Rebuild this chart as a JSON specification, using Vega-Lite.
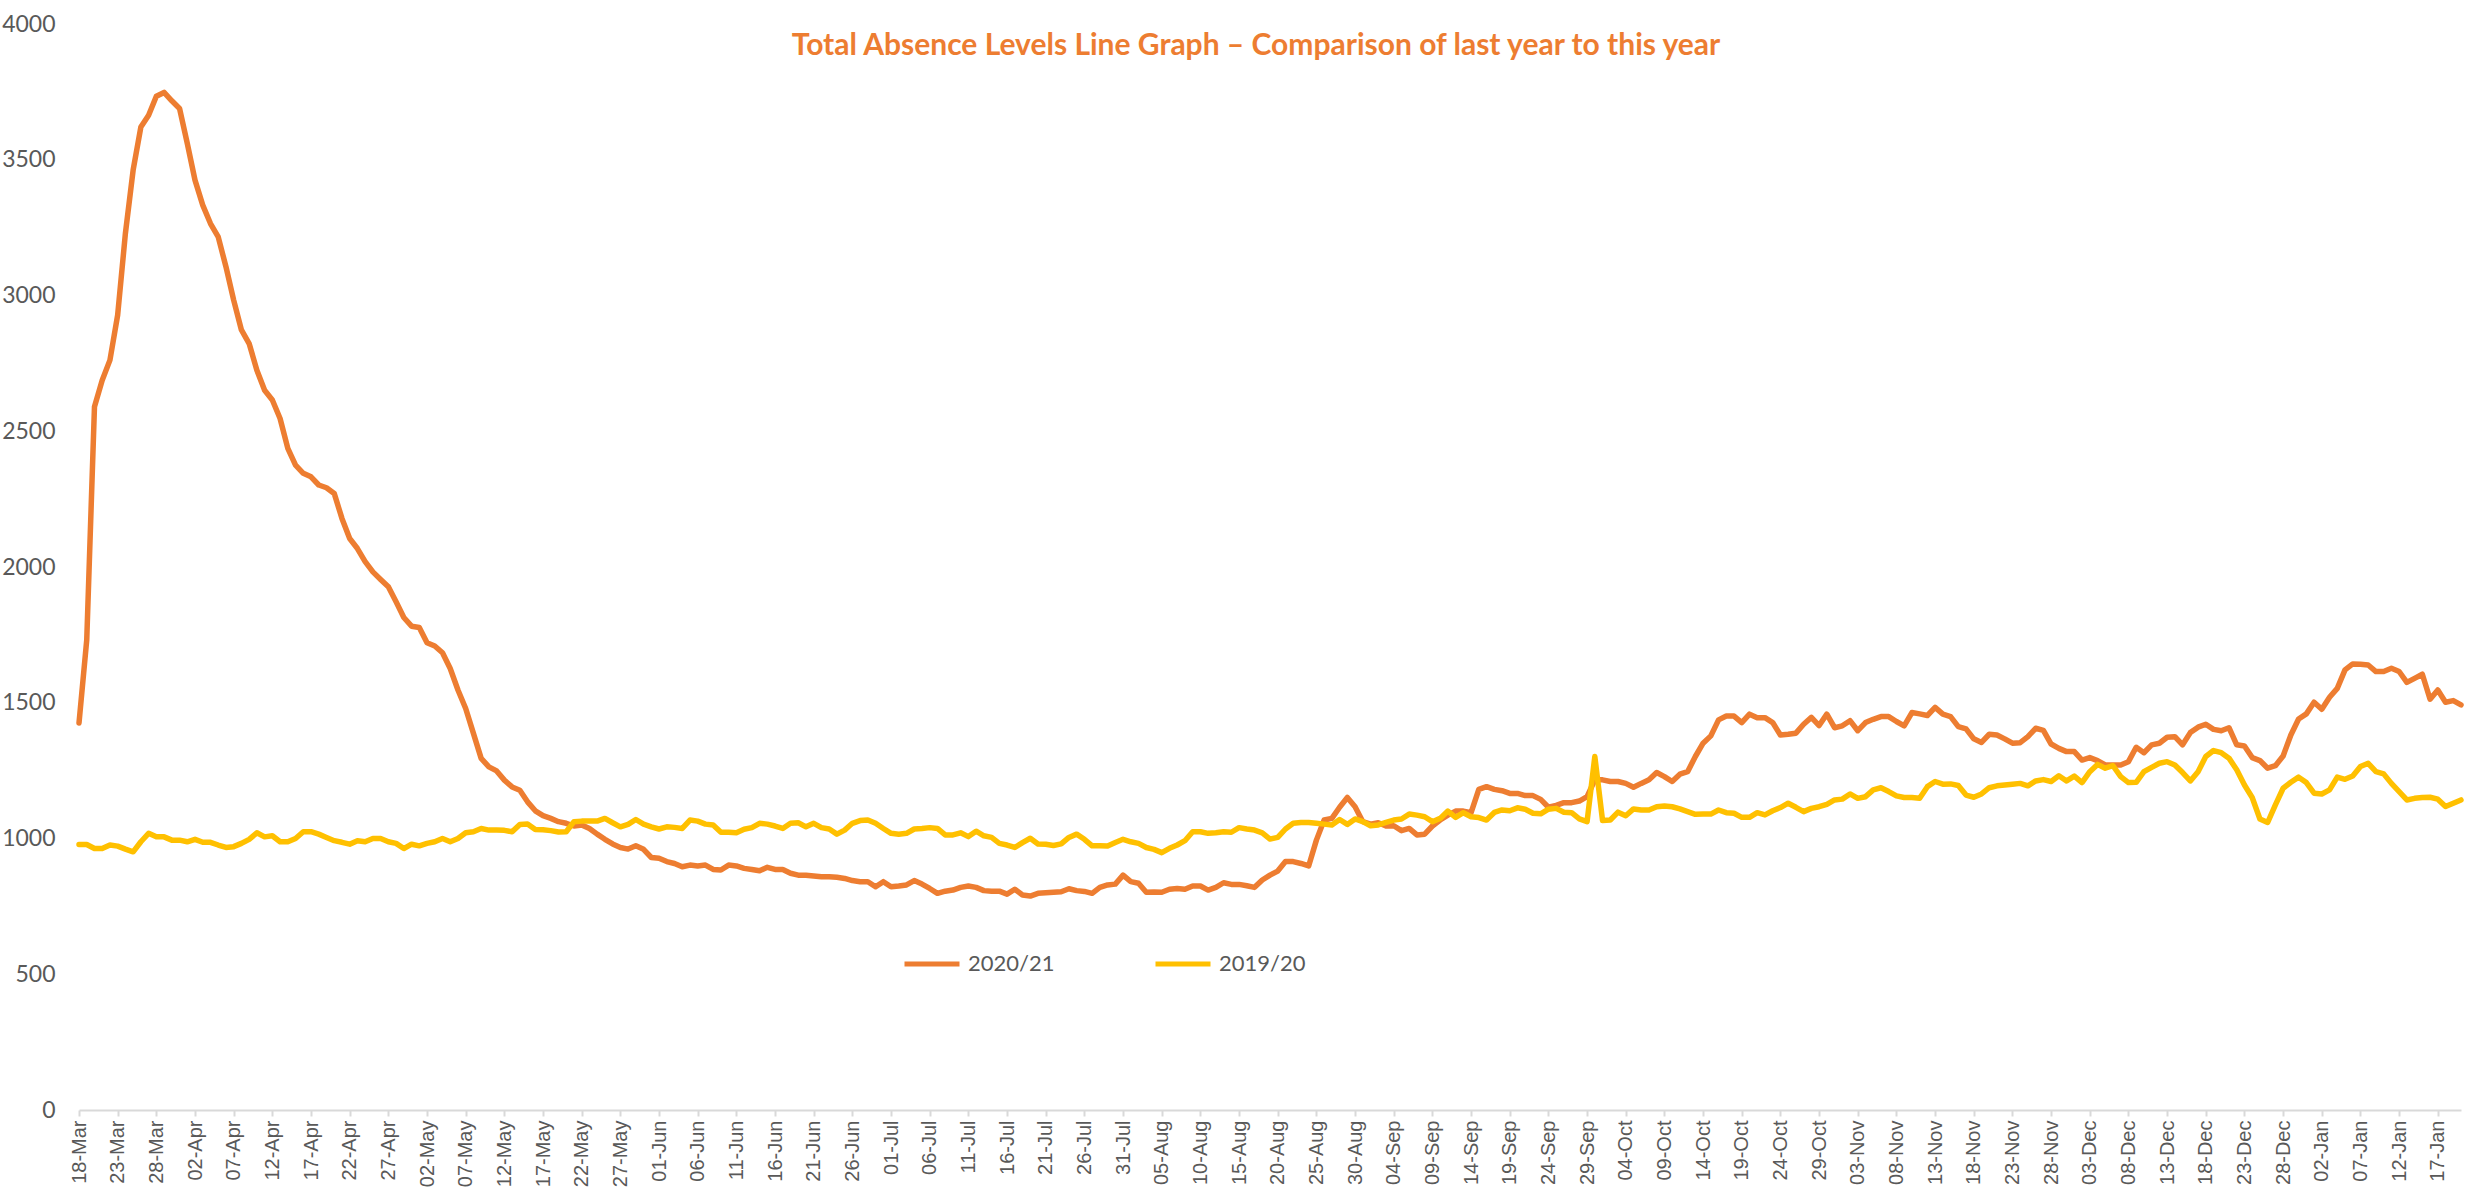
{
"$schema": "https://vega.github.io/schema/vega-lite/v6.json",
"width": 2382, "height": 1086,
"autosize": {"type": "none"},
"padding": {"left": 79, "top": 24, "right": 23, "bottom": 86},
"background": "white",
"config": {"view": {"stroke": null}, "font": "Lato"},
"title": {"text": "Total Absence Levels Line Graph – Comparison of last year to this year", "color": "#ED7D31", "font": "Lato", "fontWeight": "bold", "fontSize": 30, "anchor": "middle", "offset": -48, "dx": -14},
"data": {"values": [
{"d":"18-Mar","s":"2020/21","v":1425},{"d":"19-Mar","s":"2020/21","v":1731},{"d":"20-Mar","s":"2020/21","v":2590},{"d":"21-Mar","s":"2020/21","v":2688},{"d":"22-Mar","s":"2020/21","v":2762},{"d":"23-Mar","s":"2020/21","v":2928},{"d":"24-Mar","s":"2020/21","v":3229},{"d":"25-Mar","s":"2020/21","v":3462},{"d":"26-Mar","s":"2020/21","v":3621},{"d":"27-Mar","s":"2020/21","v":3664},{"d":"28-Mar","s":"2020/21","v":3734},{"d":"29-Mar","s":"2020/21","v":3748},{"d":"30-Mar","s":"2020/21","v":3717},{"d":"31-Mar","s":"2020/21","v":3689},
{"d":"01-Apr","s":"2020/21","v":3560},{"d":"02-Apr","s":"2020/21","v":3425},{"d":"03-Apr","s":"2020/21","v":3333},{"d":"04-Apr","s":"2020/21","v":3265},{"d":"05-Apr","s":"2020/21","v":3216},{"d":"06-Apr","s":"2020/21","v":3106},{"d":"07-Apr","s":"2020/21","v":2983},{"d":"08-Apr","s":"2020/21","v":2873},{"d":"09-Apr","s":"2020/21","v":2823},{"d":"10-Apr","s":"2020/21","v":2725},{"d":"11-Apr","s":"2020/21","v":2651},{"d":"12-Apr","s":"2020/21","v":2615},{"d":"13-Apr","s":"2020/21","v":2547},{"d":"14-Apr","s":"2020/21","v":2437},{"d":"15-Apr","s":"2020/21","v":2375},{"d":"16-Apr","s":"2020/21","v":2345},{"d":"17-Apr","s":"2020/21","v":2332},{"d":"18-Apr","s":"2020/21","v":2302},{"d":"19-Apr","s":"2020/21","v":2292},{"d":"20-Apr","s":"2020/21","v":2271},{"d":"21-Apr","s":"2020/21","v":2179},{"d":"22-Apr","s":"2020/21","v":2105},{"d":"23-Apr","s":"2020/21","v":2068},{"d":"24-Apr","s":"2020/21","v":2020},{"d":"25-Apr","s":"2020/21","v":1982},{"d":"26-Apr","s":"2020/21","v":1954},{"d":"27-Apr","s":"2020/21","v":1927},{"d":"28-Apr","s":"2020/21","v":1872},{"d":"29-Apr","s":"2020/21","v":1814},{"d":"30-Apr","s":"2020/21","v":1782},
{"d":"01-May","s":"2020/21","v":1777},{"d":"02-May","s":"2020/21","v":1721},{"d":"03-May","s":"2020/21","v":1709},{"d":"04-May","s":"2020/21","v":1684},{"d":"05-May","s":"2020/21","v":1626},{"d":"06-May","s":"2020/21","v":1547},{"d":"07-May","s":"2020/21","v":1479},{"d":"08-May","s":"2020/21","v":1387},{"d":"09-May","s":"2020/21","v":1295},{"d":"10-May","s":"2020/21","v":1264},{"d":"11-May","s":"2020/21","v":1249},{"d":"12-May","s":"2020/21","v":1215},{"d":"13-May","s":"2020/21","v":1190},{"d":"14-May","s":"2020/21","v":1178},{"d":"15-May","s":"2020/21","v":1135},{"d":"16-May","s":"2020/21","v":1102},{"d":"17-May","s":"2020/21","v":1084},{"d":"18-May","s":"2020/21","v":1074},{"d":"19-May","s":"2020/21","v":1062},{"d":"20-May","s":"2020/21","v":1056},{"d":"21-May","s":"2020/21","v":1046},{"d":"22-May","s":"2020/21","v":1050},{"d":"23-May","s":"2020/21","v":1037},{"d":"24-May","s":"2020/21","v":1016},{"d":"25-May","s":"2020/21","v":997},{"d":"26-May","s":"2020/21","v":980},{"d":"27-May","s":"2020/21","v":967},{"d":"28-May","s":"2020/21","v":961},{"d":"29-May","s":"2020/21","v":973},{"d":"30-May","s":"2020/21","v":960},{"d":"31-May","s":"2020/21","v":930},
{"d":"01-Jun","s":"2020/21","v":927},{"d":"02-Jun","s":"2020/21","v":915},{"d":"03-Jun","s":"2020/21","v":908},{"d":"04-Jun","s":"2020/21","v":896},{"d":"05-Jun","s":"2020/21","v":902},{"d":"06-Jun","s":"2020/21","v":899},{"d":"07-Jun","s":"2020/21","v":902},{"d":"08-Jun","s":"2020/21","v":886},{"d":"09-Jun","s":"2020/21","v":884},{"d":"10-Jun","s":"2020/21","v":902},{"d":"11-Jun","s":"2020/21","v":899},{"d":"12-Jun","s":"2020/21","v":890},{"d":"13-Jun","s":"2020/21","v":886},{"d":"14-Jun","s":"2020/21","v":881},{"d":"15-Jun","s":"2020/21","v":894},{"d":"16-Jun","s":"2020/21","v":886},{"d":"17-Jun","s":"2020/21","v":886},{"d":"18-Jun","s":"2020/21","v":872},{"d":"19-Jun","s":"2020/21","v":865},{"d":"20-Jun","s":"2020/21","v":865},{"d":"21-Jun","s":"2020/21","v":862},{"d":"22-Jun","s":"2020/21","v":859},{"d":"23-Jun","s":"2020/21","v":859},{"d":"24-Jun","s":"2020/21","v":857},{"d":"25-Jun","s":"2020/21","v":853},{"d":"26-Jun","s":"2020/21","v":845},{"d":"27-Jun","s":"2020/21","v":841},{"d":"28-Jun","s":"2020/21","v":841},{"d":"29-Jun","s":"2020/21","v":822},{"d":"30-Jun","s":"2020/21","v":841},
{"d":"01-Jul","s":"2020/21","v":822},{"d":"02-Jul","s":"2020/21","v":825},{"d":"03-Jul","s":"2020/21","v":829},{"d":"04-Jul","s":"2020/21","v":845},{"d":"05-Jul","s":"2020/21","v":832},{"d":"06-Jul","s":"2020/21","v":816},{"d":"07-Jul","s":"2020/21","v":798},{"d":"08-Jul","s":"2020/21","v":806},{"d":"09-Jul","s":"2020/21","v":810},{"d":"10-Jul","s":"2020/21","v":820},{"d":"11-Jul","s":"2020/21","v":825},{"d":"12-Jul","s":"2020/21","v":820},{"d":"13-Jul","s":"2020/21","v":808},{"d":"14-Jul","s":"2020/21","v":806},{"d":"15-Jul","s":"2020/21","v":806},{"d":"16-Jul","s":"2020/21","v":795},{"d":"17-Jul","s":"2020/21","v":813},{"d":"18-Jul","s":"2020/21","v":792},{"d":"19-Jul","s":"2020/21","v":788},{"d":"20-Jul","s":"2020/21","v":798},{"d":"21-Jul","s":"2020/21","v":800},{"d":"22-Jul","s":"2020/21","v":802},{"d":"23-Jul","s":"2020/21","v":804},{"d":"24-Jul","s":"2020/21","v":815},{"d":"25-Jul","s":"2020/21","v":808},{"d":"26-Jul","s":"2020/21","v":805},{"d":"27-Jul","s":"2020/21","v":798},{"d":"28-Jul","s":"2020/21","v":820},{"d":"29-Jul","s":"2020/21","v":829},{"d":"30-Jul","s":"2020/21","v":832},{"d":"31-Jul","s":"2020/21","v":865},
{"d":"01-Aug","s":"2020/21","v":841},{"d":"02-Aug","s":"2020/21","v":835},{"d":"03-Aug","s":"2020/21","v":802},{"d":"04-Aug","s":"2020/21","v":803},{"d":"05-Aug","s":"2020/21","v":802},{"d":"06-Aug","s":"2020/21","v":813},{"d":"07-Aug","s":"2020/21","v":816},{"d":"08-Aug","s":"2020/21","v":813},{"d":"09-Aug","s":"2020/21","v":825},{"d":"10-Aug","s":"2020/21","v":825},{"d":"11-Aug","s":"2020/21","v":810},{"d":"12-Aug","s":"2020/21","v":820},{"d":"13-Aug","s":"2020/21","v":837},{"d":"14-Aug","s":"2020/21","v":831},{"d":"15-Aug","s":"2020/21","v":831},{"d":"16-Aug","s":"2020/21","v":826},{"d":"17-Aug","s":"2020/21","v":820},{"d":"18-Aug","s":"2020/21","v":847},{"d":"19-Aug","s":"2020/21","v":865},{"d":"20-Aug","s":"2020/21","v":880},{"d":"21-Aug","s":"2020/21","v":915},{"d":"22-Aug","s":"2020/21","v":915},{"d":"23-Aug","s":"2020/21","v":908},{"d":"24-Aug","s":"2020/21","v":899},{"d":"25-Aug","s":"2020/21","v":994},{"d":"26-Aug","s":"2020/21","v":1068},{"d":"27-Aug","s":"2020/21","v":1074},{"d":"28-Aug","s":"2020/21","v":1115},{"d":"29-Aug","s":"2020/21","v":1151},{"d":"30-Aug","s":"2020/21","v":1117},{"d":"31-Aug","s":"2020/21","v":1062},
{"d":"01-Sep","s":"2020/21","v":1053},{"d":"02-Sep","s":"2020/21","v":1058},{"d":"03-Sep","s":"2020/21","v":1046},{"d":"04-Sep","s":"2020/21","v":1047},{"d":"05-Sep","s":"2020/21","v":1029},{"d":"06-Sep","s":"2020/21","v":1037},{"d":"07-Sep","s":"2020/21","v":1013},{"d":"08-Sep","s":"2020/21","v":1016},{"d":"09-Sep","s":"2020/21","v":1046},{"d":"10-Sep","s":"2020/21","v":1068},{"d":"11-Sep","s":"2020/21","v":1086},{"d":"12-Sep","s":"2020/21","v":1101},{"d":"13-Sep","s":"2020/21","v":1101},{"d":"14-Sep","s":"2020/21","v":1095},{"d":"15-Sep","s":"2020/21","v":1181},{"d":"16-Sep","s":"2020/21","v":1191},{"d":"17-Sep","s":"2020/21","v":1181},{"d":"18-Sep","s":"2020/21","v":1176},{"d":"19-Sep","s":"2020/21","v":1166},{"d":"20-Sep","s":"2020/21","v":1166},{"d":"21-Sep","s":"2020/21","v":1158},{"d":"22-Sep","s":"2020/21","v":1158},{"d":"23-Sep","s":"2020/21","v":1144},{"d":"24-Sep","s":"2020/21","v":1115},{"d":"25-Sep","s":"2020/21","v":1122},{"d":"26-Sep","s":"2020/21","v":1132},{"d":"27-Sep","s":"2020/21","v":1132},{"d":"28-Sep","s":"2020/21","v":1138},{"d":"29-Sep","s":"2020/21","v":1154},{"d":"30-Sep","s":"2020/21","v":1216},
{"d":"01-Oct","s":"2020/21","v":1216},{"d":"02-Oct","s":"2020/21","v":1210},{"d":"03-Oct","s":"2020/21","v":1210},{"d":"04-Oct","s":"2020/21","v":1203},{"d":"05-Oct","s":"2020/21","v":1189},{"d":"06-Oct","s":"2020/21","v":1203},{"d":"07-Oct","s":"2020/21","v":1216},{"d":"08-Oct","s":"2020/21","v":1243},{"d":"09-Oct","s":"2020/21","v":1228},{"d":"10-Oct","s":"2020/21","v":1210},{"d":"11-Oct","s":"2020/21","v":1237},{"d":"12-Oct","s":"2020/21","v":1246},{"d":"13-Oct","s":"2020/21","v":1302},{"d":"14-Oct","s":"2020/21","v":1351},{"d":"15-Oct","s":"2020/21","v":1378},{"d":"16-Oct","s":"2020/21","v":1437},{"d":"17-Oct","s":"2020/21","v":1451},{"d":"18-Oct","s":"2020/21","v":1451},{"d":"19-Oct","s":"2020/21","v":1427},{"d":"20-Oct","s":"2020/21","v":1458},{"d":"21-Oct","s":"2020/21","v":1445},{"d":"22-Oct","s":"2020/21","v":1445},{"d":"23-Oct","s":"2020/21","v":1427},{"d":"24-Oct","s":"2020/21","v":1381},{"d":"25-Oct","s":"2020/21","v":1384},{"d":"26-Oct","s":"2020/21","v":1388},{"d":"27-Oct","s":"2020/21","v":1421},{"d":"28-Oct","s":"2020/21","v":1446},{"d":"29-Oct","s":"2020/21","v":1416},{"d":"30-Oct","s":"2020/21","v":1458},{"d":"31-Oct","s":"2020/21","v":1408},
{"d":"01-Nov","s":"2020/21","v":1415},{"d":"02-Nov","s":"2020/21","v":1434},{"d":"03-Nov","s":"2020/21","v":1397},{"d":"04-Nov","s":"2020/21","v":1427},{"d":"05-Nov","s":"2020/21","v":1439},{"d":"06-Nov","s":"2020/21","v":1449},{"d":"07-Nov","s":"2020/21","v":1449},{"d":"08-Nov","s":"2020/21","v":1431},{"d":"09-Nov","s":"2020/21","v":1415},{"d":"10-Nov","s":"2020/21","v":1464},{"d":"11-Nov","s":"2020/21","v":1459},{"d":"12-Nov","s":"2020/21","v":1453},{"d":"13-Nov","s":"2020/21","v":1483},{"d":"14-Nov","s":"2020/21","v":1458},{"d":"15-Nov","s":"2020/21","v":1449},{"d":"16-Nov","s":"2020/21","v":1412},{"d":"17-Nov","s":"2020/21","v":1404},{"d":"18-Nov","s":"2020/21","v":1367},{"d":"19-Nov","s":"2020/21","v":1354},{"d":"20-Nov","s":"2020/21","v":1384},{"d":"21-Nov","s":"2020/21","v":1381},{"d":"22-Nov","s":"2020/21","v":1367},{"d":"23-Nov","s":"2020/21","v":1351},{"d":"24-Nov","s":"2020/21","v":1353},{"d":"25-Nov","s":"2020/21","v":1375},{"d":"26-Nov","s":"2020/21","v":1406},{"d":"27-Nov","s":"2020/21","v":1398},{"d":"28-Nov","s":"2020/21","v":1348},{"d":"29-Nov","s":"2020/21","v":1332},{"d":"30-Nov","s":"2020/21","v":1320},
{"d":"01-Dec","s":"2020/21","v":1320},{"d":"02-Dec","s":"2020/21","v":1289},{"d":"03-Dec","s":"2020/21","v":1298},{"d":"04-Dec","s":"2020/21","v":1287},{"d":"05-Dec","s":"2020/21","v":1271},{"d":"06-Dec","s":"2020/21","v":1271},{"d":"07-Dec","s":"2020/21","v":1271},{"d":"08-Dec","s":"2020/21","v":1283},{"d":"09-Dec","s":"2020/21","v":1336},{"d":"10-Dec","s":"2020/21","v":1316},{"d":"11-Dec","s":"2020/21","v":1345},{"d":"12-Dec","s":"2020/21","v":1351},{"d":"13-Dec","s":"2020/21","v":1373},{"d":"14-Dec","s":"2020/21","v":1375},{"d":"15-Dec","s":"2020/21","v":1345},{"d":"16-Dec","s":"2020/21","v":1390},{"d":"17-Dec","s":"2020/21","v":1410},{"d":"18-Dec","s":"2020/21","v":1421},{"d":"19-Dec","s":"2020/21","v":1402},{"d":"20-Dec","s":"2020/21","v":1397},{"d":"21-Dec","s":"2020/21","v":1408},{"d":"22-Dec","s":"2020/21","v":1345},{"d":"23-Dec","s":"2020/21","v":1341},{"d":"24-Dec","s":"2020/21","v":1298},{"d":"25-Dec","s":"2020/21","v":1287},{"d":"26-Dec","s":"2020/21","v":1259},{"d":"27-Dec","s":"2020/21","v":1268},{"d":"28-Dec","s":"2020/21","v":1304},{"d":"29-Dec","s":"2020/21","v":1381},{"d":"30-Dec","s":"2020/21","v":1440},{"d":"31-Dec","s":"2020/21","v":1459},
{"d":"01-Jan","s":"2020/21","v":1502},{"d":"02-Jan","s":"2020/21","v":1476},{"d":"03-Jan","s":"2020/21","v":1520},{"d":"04-Jan","s":"2020/21","v":1553},{"d":"05-Jan","s":"2020/21","v":1621},{"d":"06-Jan","s":"2020/21","v":1643},{"d":"07-Jan","s":"2020/21","v":1642},{"d":"08-Jan","s":"2020/21","v":1639},{"d":"09-Jan","s":"2020/21","v":1615},{"d":"10-Jan","s":"2020/21","v":1615},{"d":"11-Jan","s":"2020/21","v":1627},{"d":"12-Jan","s":"2020/21","v":1615},{"d":"13-Jan","s":"2020/21","v":1575},{"d":"14-Jan","s":"2020/21","v":1590},{"d":"15-Jan","s":"2020/21","v":1605},{"d":"16-Jan","s":"2020/21","v":1513},{"d":"17-Jan","s":"2020/21","v":1547},{"d":"18-Jan","s":"2020/21","v":1502},{"d":"19-Jan","s":"2020/21","v":1508},{"d":"20-Jan","s":"2020/21","v":1492},
{"d":"18-Mar","s":"2019/20","v":978},{"d":"19-Mar","s":"2019/20","v":978},{"d":"20-Mar","s":"2019/20","v":963},{"d":"21-Mar","s":"2019/20","v":963},{"d":"22-Mar","s":"2019/20","v":976},{"d":"23-Mar","s":"2019/20","v":972},{"d":"24-Mar","s":"2019/20","v":961},{"d":"25-Mar","s":"2019/20","v":951},{"d":"26-Mar","s":"2019/20","v":988},{"d":"27-Mar","s":"2019/20","v":1019},{"d":"28-Mar","s":"2019/20","v":1006},{"d":"29-Mar","s":"2019/20","v":1006},{"d":"30-Mar","s":"2019/20","v":994},{"d":"31-Mar","s":"2019/20","v":994},
{"d":"01-Apr","s":"2019/20","v":988},{"d":"02-Apr","s":"2019/20","v":997},{"d":"03-Apr","s":"2019/20","v":986},{"d":"04-Apr","s":"2019/20","v":986},{"d":"05-Apr","s":"2019/20","v":976},{"d":"06-Apr","s":"2019/20","v":967},{"d":"07-Apr","s":"2019/20","v":970},{"d":"08-Apr","s":"2019/20","v":982},{"d":"09-Apr","s":"2019/20","v":997},{"d":"10-Apr","s":"2019/20","v":1021},{"d":"11-Apr","s":"2019/20","v":1006},{"d":"12-Apr","s":"2019/20","v":1010},{"d":"13-Apr","s":"2019/20","v":988},{"d":"14-Apr","s":"2019/20","v":988},{"d":"15-Apr","s":"2019/20","v":1000},{"d":"16-Apr","s":"2019/20","v":1025},{"d":"17-Apr","s":"2019/20","v":1025},{"d":"18-Apr","s":"2019/20","v":1016},{"d":"19-Apr","s":"2019/20","v":1004},{"d":"20-Apr","s":"2019/20","v":992},{"d":"21-Apr","s":"2019/20","v":986},{"d":"22-Apr","s":"2019/20","v":979},{"d":"23-Apr","s":"2019/20","v":992},{"d":"24-Apr","s":"2019/20","v":988},{"d":"25-Apr","s":"2019/20","v":1000},{"d":"26-Apr","s":"2019/20","v":1000},{"d":"27-Apr","s":"2019/20","v":988},{"d":"28-Apr","s":"2019/20","v":982},{"d":"29-Apr","s":"2019/20","v":963},{"d":"30-Apr","s":"2019/20","v":979},
{"d":"01-May","s":"2019/20","v":973},{"d":"02-May","s":"2019/20","v":982},{"d":"03-May","s":"2019/20","v":988},{"d":"04-May","s":"2019/20","v":1000},{"d":"05-May","s":"2019/20","v":988},{"d":"06-May","s":"2019/20","v":1000},{"d":"07-May","s":"2019/20","v":1021},{"d":"08-May","s":"2019/20","v":1025},{"d":"09-May","s":"2019/20","v":1037},{"d":"10-May","s":"2019/20","v":1031},{"d":"11-May","s":"2019/20","v":1031},{"d":"12-May","s":"2019/20","v":1030},{"d":"13-May","s":"2019/20","v":1025},{"d":"14-May","s":"2019/20","v":1052},{"d":"15-May","s":"2019/20","v":1053},{"d":"16-May","s":"2019/20","v":1033},{"d":"17-May","s":"2019/20","v":1032},{"d":"18-May","s":"2019/20","v":1029},{"d":"19-May","s":"2019/20","v":1024},{"d":"20-May","s":"2019/20","v":1025},{"d":"21-May","s":"2019/20","v":1062},{"d":"22-May","s":"2019/20","v":1064},{"d":"23-May","s":"2019/20","v":1064},{"d":"24-May","s":"2019/20","v":1064},{"d":"25-May","s":"2019/20","v":1074},{"d":"26-May","s":"2019/20","v":1058},{"d":"27-May","s":"2019/20","v":1043},{"d":"28-May","s":"2019/20","v":1052},{"d":"29-May","s":"2019/20","v":1070},{"d":"30-May","s":"2019/20","v":1053},{"d":"31-May","s":"2019/20","v":1043},
{"d":"01-Jun","s":"2019/20","v":1035},{"d":"02-Jun","s":"2019/20","v":1043},{"d":"03-Jun","s":"2019/20","v":1041},{"d":"04-Jun","s":"2019/20","v":1037},{"d":"05-Jun","s":"2019/20","v":1068},{"d":"06-Jun","s":"2019/20","v":1064},{"d":"07-Jun","s":"2019/20","v":1053},{"d":"08-Jun","s":"2019/20","v":1050},{"d":"09-Jun","s":"2019/20","v":1023},{"d":"10-Jun","s":"2019/20","v":1023},{"d":"11-Jun","s":"2019/20","v":1021},{"d":"12-Jun","s":"2019/20","v":1034},{"d":"13-Jun","s":"2019/20","v":1040},{"d":"14-Jun","s":"2019/20","v":1056},{"d":"15-Jun","s":"2019/20","v":1053},{"d":"16-Jun","s":"2019/20","v":1046},{"d":"17-Jun","s":"2019/20","v":1037},{"d":"18-Jun","s":"2019/20","v":1056},{"d":"19-Jun","s":"2019/20","v":1058},{"d":"20-Jun","s":"2019/20","v":1043},{"d":"21-Jun","s":"2019/20","v":1056},{"d":"22-Jun","s":"2019/20","v":1040},{"d":"23-Jun","s":"2019/20","v":1035},{"d":"24-Jun","s":"2019/20","v":1016},{"d":"25-Jun","s":"2019/20","v":1031},{"d":"26-Jun","s":"2019/20","v":1056},{"d":"27-Jun","s":"2019/20","v":1066},{"d":"28-Jun","s":"2019/20","v":1068},{"d":"29-Jun","s":"2019/20","v":1056},{"d":"30-Jun","s":"2019/20","v":1037},
{"d":"01-Jul","s":"2019/20","v":1019},{"d":"02-Jul","s":"2019/20","v":1016},{"d":"03-Jul","s":"2019/20","v":1019},{"d":"04-Jul","s":"2019/20","v":1035},{"d":"05-Jul","s":"2019/20","v":1037},{"d":"06-Jul","s":"2019/20","v":1040},{"d":"07-Jul","s":"2019/20","v":1037},{"d":"08-Jul","s":"2019/20","v":1013},{"d":"09-Jul","s":"2019/20","v":1013},{"d":"10-Jul","s":"2019/20","v":1021},{"d":"11-Jul","s":"2019/20","v":1007},{"d":"12-Jul","s":"2019/20","v":1027},{"d":"13-Jul","s":"2019/20","v":1010},{"d":"14-Jul","s":"2019/20","v":1004},{"d":"15-Jul","s":"2019/20","v":982},{"d":"16-Jul","s":"2019/20","v":976},{"d":"17-Jul","s":"2019/20","v":967},{"d":"18-Jul","s":"2019/20","v":985},{"d":"19-Jul","s":"2019/20","v":1001},{"d":"20-Jul","s":"2019/20","v":980},{"d":"21-Jul","s":"2019/20","v":979},{"d":"22-Jul","s":"2019/20","v":974},{"d":"23-Jul","s":"2019/20","v":980},{"d":"24-Jul","s":"2019/20","v":1004},{"d":"25-Jul","s":"2019/20","v":1016},{"d":"26-Jul","s":"2019/20","v":997},{"d":"27-Jul","s":"2019/20","v":973},{"d":"28-Jul","s":"2019/20","v":973},{"d":"29-Jul","s":"2019/20","v":972},{"d":"30-Jul","s":"2019/20","v":985},{"d":"31-Jul","s":"2019/20","v":997},
{"d":"01-Aug","s":"2019/20","v":988},{"d":"02-Aug","s":"2019/20","v":982},{"d":"03-Aug","s":"2019/20","v":967},{"d":"04-Aug","s":"2019/20","v":960},{"d":"05-Aug","s":"2019/20","v":948},{"d":"06-Aug","s":"2019/20","v":964},{"d":"07-Aug","s":"2019/20","v":976},{"d":"08-Aug","s":"2019/20","v":992},{"d":"09-Aug","s":"2019/20","v":1025},{"d":"10-Aug","s":"2019/20","v":1025},{"d":"11-Aug","s":"2019/20","v":1019},{"d":"12-Aug","s":"2019/20","v":1021},{"d":"13-Aug","s":"2019/20","v":1025},{"d":"14-Aug","s":"2019/20","v":1023},{"d":"15-Aug","s":"2019/20","v":1040},{"d":"16-Aug","s":"2019/20","v":1035},{"d":"17-Aug","s":"2019/20","v":1031},{"d":"18-Aug","s":"2019/20","v":1021},{"d":"19-Aug","s":"2019/20","v":998},{"d":"20-Aug","s":"2019/20","v":1004},{"d":"21-Aug","s":"2019/20","v":1035},{"d":"22-Aug","s":"2019/20","v":1056},{"d":"23-Aug","s":"2019/20","v":1059},{"d":"24-Aug","s":"2019/20","v":1059},{"d":"25-Aug","s":"2019/20","v":1056},{"d":"26-Aug","s":"2019/20","v":1053},{"d":"27-Aug","s":"2019/20","v":1050},{"d":"28-Aug","s":"2019/20","v":1070},{"d":"29-Aug","s":"2019/20","v":1052},{"d":"30-Aug","s":"2019/20","v":1072},{"d":"31-Aug","s":"2019/20","v":1062},
{"d":"01-Sep","s":"2019/20","v":1047},{"d":"02-Sep","s":"2019/20","v":1050},{"d":"03-Sep","s":"2019/20","v":1059},{"d":"04-Sep","s":"2019/20","v":1068},{"d":"05-Sep","s":"2019/20","v":1072},{"d":"06-Sep","s":"2019/20","v":1090},{"d":"07-Sep","s":"2019/20","v":1086},{"d":"08-Sep","s":"2019/20","v":1080},{"d":"09-Sep","s":"2019/20","v":1062},{"d":"10-Sep","s":"2019/20","v":1074},{"d":"11-Sep","s":"2019/20","v":1101},{"d":"12-Sep","s":"2019/20","v":1078},{"d":"13-Sep","s":"2019/20","v":1095},{"d":"14-Sep","s":"2019/20","v":1080},{"d":"15-Sep","s":"2019/20","v":1077},{"d":"16-Sep","s":"2019/20","v":1068},{"d":"17-Sep","s":"2019/20","v":1096},{"d":"18-Sep","s":"2019/20","v":1105},{"d":"19-Sep","s":"2019/20","v":1102},{"d":"20-Sep","s":"2019/20","v":1113},{"d":"21-Sep","s":"2019/20","v":1108},{"d":"22-Sep","s":"2019/20","v":1093},{"d":"23-Sep","s":"2019/20","v":1091},{"d":"24-Sep","s":"2019/20","v":1108},{"d":"25-Sep","s":"2019/20","v":1111},{"d":"26-Sep","s":"2019/20","v":1097},{"d":"27-Sep","s":"2019/20","v":1095},{"d":"28-Sep","s":"2019/20","v":1072},{"d":"29-Sep","s":"2019/20","v":1062},{"d":"30-Sep","s":"2019/20","v":1302},
{"d":"01-Oct","s":"2019/20","v":1066},{"d":"02-Oct","s":"2019/20","v":1068},{"d":"03-Oct","s":"2019/20","v":1097},{"d":"04-Oct","s":"2019/20","v":1084},{"d":"05-Oct","s":"2019/20","v":1109},{"d":"06-Oct","s":"2019/20","v":1105},{"d":"07-Oct","s":"2019/20","v":1105},{"d":"08-Oct","s":"2019/20","v":1117},{"d":"09-Oct","s":"2019/20","v":1120},{"d":"10-Oct","s":"2019/20","v":1117},{"d":"11-Oct","s":"2019/20","v":1109},{"d":"12-Oct","s":"2019/20","v":1099},{"d":"13-Oct","s":"2019/20","v":1089},{"d":"14-Oct","s":"2019/20","v":1090},{"d":"15-Oct","s":"2019/20","v":1090},{"d":"16-Oct","s":"2019/20","v":1105},{"d":"17-Oct","s":"2019/20","v":1095},{"d":"18-Oct","s":"2019/20","v":1093},{"d":"19-Oct","s":"2019/20","v":1078},{"d":"20-Oct","s":"2019/20","v":1078},{"d":"21-Oct","s":"2019/20","v":1095},{"d":"22-Oct","s":"2019/20","v":1087},{"d":"23-Oct","s":"2019/20","v":1102},{"d":"24-Oct","s":"2019/20","v":1114},{"d":"25-Oct","s":"2019/20","v":1130},{"d":"26-Oct","s":"2019/20","v":1115},{"d":"27-Oct","s":"2019/20","v":1099},{"d":"28-Oct","s":"2019/20","v":1111},{"d":"29-Oct","s":"2019/20","v":1117},{"d":"30-Oct","s":"2019/20","v":1126},{"d":"31-Oct","s":"2019/20","v":1142},
{"d":"01-Nov","s":"2019/20","v":1145},{"d":"02-Nov","s":"2019/20","v":1164},{"d":"03-Nov","s":"2019/20","v":1148},{"d":"04-Nov","s":"2019/20","v":1154},{"d":"05-Nov","s":"2019/20","v":1179},{"d":"06-Nov","s":"2019/20","v":1187},{"d":"07-Nov","s":"2019/20","v":1173},{"d":"08-Nov","s":"2019/20","v":1157},{"d":"09-Nov","s":"2019/20","v":1151},{"d":"10-Nov","s":"2019/20","v":1151},{"d":"11-Nov","s":"2019/20","v":1148},{"d":"12-Nov","s":"2019/20","v":1191},{"d":"13-Nov","s":"2019/20","v":1210},{"d":"14-Nov","s":"2019/20","v":1200},{"d":"15-Nov","s":"2019/20","v":1201},{"d":"16-Nov","s":"2019/20","v":1195},{"d":"17-Nov","s":"2019/20","v":1160},{"d":"18-Nov","s":"2019/20","v":1152},{"d":"19-Nov","s":"2019/20","v":1164},{"d":"20-Nov","s":"2019/20","v":1187},{"d":"21-Nov","s":"2019/20","v":1194},{"d":"22-Nov","s":"2019/20","v":1197},{"d":"23-Nov","s":"2019/20","v":1200},{"d":"24-Nov","s":"2019/20","v":1203},{"d":"25-Nov","s":"2019/20","v":1194},{"d":"26-Nov","s":"2019/20","v":1212},{"d":"27-Nov","s":"2019/20","v":1217},{"d":"28-Nov","s":"2019/20","v":1210},{"d":"29-Nov","s":"2019/20","v":1231},{"d":"30-Nov","s":"2019/20","v":1212},
{"d":"01-Dec","s":"2019/20","v":1230},{"d":"02-Dec","s":"2019/20","v":1206},{"d":"03-Dec","s":"2019/20","v":1246},{"d":"04-Dec","s":"2019/20","v":1273},{"d":"05-Dec","s":"2019/20","v":1259},{"d":"06-Dec","s":"2019/20","v":1268},{"d":"07-Dec","s":"2019/20","v":1228},{"d":"08-Dec","s":"2019/20","v":1206},{"d":"09-Dec","s":"2019/20","v":1207},{"d":"10-Dec","s":"2019/20","v":1246},{"d":"11-Dec","s":"2019/20","v":1262},{"d":"12-Dec","s":"2019/20","v":1277},{"d":"13-Dec","s":"2019/20","v":1283},{"d":"14-Dec","s":"2019/20","v":1271},{"d":"15-Dec","s":"2019/20","v":1243},{"d":"16-Dec","s":"2019/20","v":1212},{"d":"17-Dec","s":"2019/20","v":1246},{"d":"18-Dec","s":"2019/20","v":1302},{"d":"19-Dec","s":"2019/20","v":1324},{"d":"20-Dec","s":"2019/20","v":1316},{"d":"21-Dec","s":"2019/20","v":1296},{"d":"22-Dec","s":"2019/20","v":1253},{"d":"23-Dec","s":"2019/20","v":1197},{"d":"24-Dec","s":"2019/20","v":1151},{"d":"25-Dec","s":"2019/20","v":1072},{"d":"26-Dec","s":"2019/20","v":1059},{"d":"27-Dec","s":"2019/20","v":1124},{"d":"28-Dec","s":"2019/20","v":1185},{"d":"29-Dec","s":"2019/20","v":1207},{"d":"30-Dec","s":"2019/20","v":1226},{"d":"31-Dec","s":"2019/20","v":1206},
{"d":"01-Jan","s":"2019/20","v":1167},{"d":"02-Jan","s":"2019/20","v":1164},{"d":"03-Jan","s":"2019/20","v":1179},{"d":"04-Jan","s":"2019/20","v":1226},{"d":"05-Jan","s":"2019/20","v":1218},{"d":"06-Jan","s":"2019/20","v":1230},{"d":"07-Jan","s":"2019/20","v":1265},{"d":"08-Jan","s":"2019/20","v":1277},{"d":"09-Jan","s":"2019/20","v":1246},{"d":"10-Jan","s":"2019/20","v":1238},{"d":"11-Jan","s":"2019/20","v":1203},{"d":"12-Jan","s":"2019/20","v":1173},{"d":"13-Jan","s":"2019/20","v":1142},{"d":"14-Jan","s":"2019/20","v":1148},{"d":"15-Jan","s":"2019/20","v":1151},{"d":"16-Jan","s":"2019/20","v":1152},{"d":"17-Jan","s":"2019/20","v":1145},{"d":"18-Jan","s":"2019/20","v":1118},{"d":"19-Jan","s":"2019/20","v":1130},{"d":"20-Jan","s":"2019/20","v":1142}
]},
"mark": {"type": "line", "strokeWidth": 5.5, "strokeJoin": "round", "strokeCap": "round"},
"encoding": {
  "x": {"field": "d", "type": "ordinal", "sort": null, "scale": {"type": "point", "padding": 0},
        "axis": {"title": null, "grid": false,
                 "values": ["18-Mar","23-Mar","28-Mar","02-Apr","07-Apr","12-Apr","17-Apr","22-Apr","27-Apr","02-May","07-May","12-May","17-May","22-May","27-May","01-Jun","06-Jun","11-Jun","16-Jun","21-Jun","26-Jun","01-Jul","06-Jul","11-Jul","16-Jul","21-Jul","26-Jul","31-Jul","05-Aug","10-Aug","15-Aug","20-Aug","25-Aug","30-Aug","04-Sep","09-Sep","14-Sep","19-Sep","24-Sep","29-Sep","04-Oct","09-Oct","14-Oct","19-Oct","24-Oct","29-Oct","03-Nov","08-Nov","13-Nov","18-Nov","23-Nov","28-Nov","03-Dec","08-Dec","13-Dec","18-Dec","23-Dec","28-Dec","02-Jan","07-Jan","12-Jan","17-Jan"],
                 "labelAngle": -90, "labelFont": "Liberation Sans", "labelFontSize": 20, "labelColor": "#595959",
                 "domainColor": "#D9D9D9", "domainWidth": 2, "tickColor": "#D9D9D9", "tickSize": 6, "tickWidth": 2, "labelPadding": 4}},
  "y": {"field": "v", "type": "quantitative", "scale": {"domain": [0, 4000], "nice": false},
        "axis": {"title": null, "values": [0,500,1000,1500,2000,2500,3000,3500,4000], "format": "d", "domain": false, "ticks": false, "grid": false,
                 "labelFont": "Lato", "labelFontSize": 23, "labelColor": "#595959", "labelPadding": 24}},
  "color": {"field": "s", "type": "nominal",
            "scale": {"domain": ["2020/21","2019/20"], "range": ["#ED7D31","#FFC000"]},
            "legend": {"orient": "none", "legendX": 823, "legendY": 910, "direction": "horizontal", "columns": 2, "title": null,
                       "symbolType": "stroke", "symbolSize": 3025, "symbolStrokeWidth": 5,
                       "labelFont": "Lato", "labelFontSize": 22, "labelColor": "#595959", "labelOffset": 6, "columnPadding": 90}}
}
}
